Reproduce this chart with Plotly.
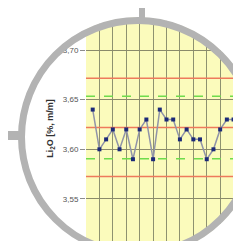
import numpy as np
import plotly.graph_objects as go

# ---- data ----
sample_no = list(range(1, 25))
li2o = [3.64, 3.60, 3.61, 3.62, 3.60, 3.62, 3.59, 3.62, 3.63, 3.59, 3.64, 3.63,
        3.63, 3.61, 3.62, 3.61, 3.61, 3.59, 3.60, 3.62, 3.63, 3.63, 3.64, 3.63]
mean_line = 3.622
warn_limits = [3.5905, 3.6535]
action_limits = [3.5725, 3.6715]
y_ticks = [3.55, 3.60, 3.65, 3.70]
y_ticktext = ["3,55", "3,60", "3,65", "3,70"]
y_title = "<b>Li<sub>2</sub>O [%, m/m]</b>"

W, H = 241, 241
L, R, T, B = 78, 0, 0, 0
PW, PH = W - L - R, H - T - B
XR = [0, 24.3]
YR = [3.4996, 3.7423]


def pp(px, py):
    return (px - L) / PW, (H - py) / PH


fig = go.Figure()
xspan = XR
for yv, col, dash in [(action_limits[1], "#ee7a5c", "solid"),
                      (action_limits[0], "#ee7a5c", "solid"),
                      (mean_line, "#ee7a5c", "solid"),
                      (warn_limits[1], "#6fdc4c", "dash"),
                      (warn_limits[0], "#6fdc4c", "dash")]:
    fig.add_trace(go.Scatter(x=xspan, y=[yv, yv], mode="lines",
                             line=dict(color=col, width=1.5, dash=dash),
                             hoverinfo="skip", showlegend=False))

fig.add_trace(go.Scatter(x=sample_no, y=li2o, mode="lines+markers",
                         line=dict(color="#9094a8", width=1.5),
                         marker=dict(color="#1c2a78", size=4, symbol="square"),
                         showlegend=False))

# circular frame (decoration)
cx, cy, r_out, ring_w = 130, 129, 120, 7
theta = np.linspace(0, 2 * np.pi, 181)
circ = [pp(cx + (r_out - 0.5) * np.cos(t), cy + (r_out - 0.5) * np.sin(t)) for t in theta]
rect = [pp(-2, -2), pp(W + 2, -2), pp(W + 2, H + 2), pp(-2, H + 2)]
path = "M" + " L".join(f"{a:.5f},{b:.5f}" for a, b in rect) + " Z"
path += " M" + " L".join(f"{a:.5f},{b:.5f}" for a, b in circ) + " Z"
rc = r_out - ring_w / 2
x0, y0 = pp(cx - rc, cy + rc)
x1, y1 = pp(cx + rc, cy - rc)
sx0, sy0 = pp(131, -2)
sx1, sy1 = pp(137, 14)
lx0, ly0 = pp(-2, 132)
lx1, ly1 = pp(14, 123)
fig.update_layout(shapes=[
    dict(type="path", path=path, xref="paper", yref="paper", fillcolor="white",
         line=dict(width=0), fillrule="evenodd", layer="above"),
    dict(type="circle", xref="paper", yref="paper", x0=x0, y0=y0, x1=x1, y1=y1,
         line=dict(color="#b3b3b3", width=ring_w), layer="above"),
    dict(type="rect", xref="paper", yref="paper", x0=sx0, y0=sy0, x1=sx1, y1=sy1,
         fillcolor="#b3b3b3", line=dict(width=0), layer="above"),
    dict(type="rect", xref="paper", yref="paper", x0=lx0, y0=ly0, x1=lx1, y1=ly1,
         fillcolor="#b3b3b3", line=dict(width=0), layer="above"),
])

fig.update_layout(
    width=W, height=H, margin=dict(l=L, r=R, t=T, b=B, pad=0),
    paper_bgcolor="white", plot_bgcolor="#fbfbbc",
    font=dict(family="Liberation Sans, Arial, sans-serif", color="#555555"),
    xaxis=dict(range=XR, dtick=2, tick0=0, showgrid=True,
               gridcolor="#8e9270", gridwidth=1, showticklabels=False,
               zeroline=False, showline=False, ticks=""),
    yaxis=dict(range=YR, tickvals=y_ticks, ticktext=y_ticktext, showgrid=True,
               gridcolor="#8a8a6a", gridwidth=1, zeroline=False, showline=False,
               ticks="outside", ticklen=5, tickcolor="#8c8c8c",
               tickfont=dict(size=8, color="#555555"),
               title=dict(text=y_title, font=dict(size=9, color="#333333"), standoff=7)),
)

fig.write_html("out.html")
